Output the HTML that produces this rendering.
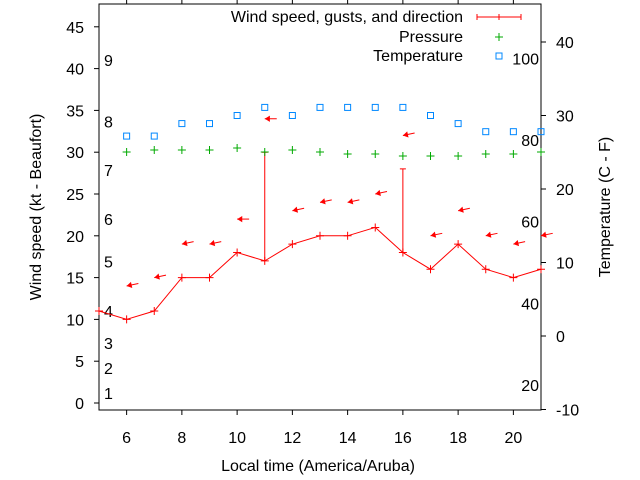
<!DOCTYPE html>
<html><head><meta charset="utf-8"><style>
body{margin:0;background:#fff;}
svg{display:block;font-family:"Liberation Sans",sans-serif;font-size:16px;}
</style></head><body>
<svg id="c" width="640" height="480"></svg>
<script>
const hours=[5,6,7,8,9,10,11,12,13,14,15,16,17,18,19,20,21];
const windSpeed=[11,10,11,15,15,18,17,19,20,20,21,18,16,19,16,15,16];
const gustHours=[11,16];
const gustValues=[30,28];
const dirHours=[6,7,8,9,10,11,12,13,14,15,16,17,18,19,20,21];
const dirLevels=[14,15,19,19,22,34,23,24,24,25,32,20,23,20,19,20];
const dirDegrees=[78,78,78,78,90,90,78,78,78,78,78,78,78,78,78,78];
const presHours=[6,7,8,9,10,11,12,13,14,15,16,17,18,19,20,21];
const pressure=[1013.0,1013.1,1013.1,1013.1,1013.2,1013.0,1013.1,1013.0,1012.9,1012.9,1012.8,1012.8,1012.8,1012.9,1012.9,1013.0];
const tempHours=[6,7,8,9,10,11,12,13,14,15,16,17,18,19,20,21];
const tempC=[27.2,27.2,28.9,28.9,30,31.1,30,31.1,31.1,31.1,31.1,30,28.9,27.8,27.8,27.8];
const xTicks=[6,8,10,12,14,16,18,20];
const yTicks=[0,5,10,15,20,25,30,35,40,45];
const y2Ticks=[-10,0,10,20,30,40];
const beaufortLabels=["1","2","3","4","5","6","7","8","9"];
const beaufortKt=[1.2,4.2,7.2,11,16.9,22,27.9,33.7,41];
const fahrLabels=["20","40","60","80","100"];

const L=99,R=541,T=4,B=410;
const X=h=>L+(h-5)*(R-L)/16;
const Y=v=>403-v*8.36;
const Y2=c=>336-c*7.35;
const YP=p=>152-(p-1013)*20;
const svg=document.getElementById('c');
const NS='http://www.w3.org/2000/svg';
function mk(t,a,txt){const e=document.createElementNS(NS,t);for(const k in a)e.setAttribute(k,a[k]);if(txt!==undefined)e.textContent=txt;svg.appendChild(e);return e;}

let e;
e=mk('rect',{x:L,y:T,width:R-L,height:B-T,fill:'none',stroke:'#000','stroke-width':1});


xTicks.forEach(h=>{
 e=mk('line',{x1:X(h),x2:X(h),y1:B,y2:B+5,stroke:'#000'});
 
 
 e=mk('line',{x1:X(h),x2:X(h),y1:T,y2:T-5,stroke:'#000'});
 
 
 e=mk('text',{x:X(h),y:443,'text-anchor':'middle'},h);
 
 
});
yTicks.forEach(v=>{
 e=mk('line',{x1:L-5,x2:L,y1:Y(v),y2:Y(v),stroke:'#000'});
 
 
 e=mk('text',{x:84,y:Y(v)+6,'text-anchor':'end'},v);
 
 
});
y2Ticks.forEach(v=>{
 e=mk('line',{x1:R,x2:R+5,y1:Y2(v),y2:Y2(v),stroke:'#000'});
 
 
 e=mk('text',{x:556,y:Y2(v)+6,'text-anchor':'start'},v);
 
 
});
beaufortLabels.forEach((b,i)=>{
 e=mk('text',{x:104,y:Y(beaufortKt[i])+6},b);
 
 
});
fahrLabels.forEach(f=>{
 e=mk('text',{x:539,y:Y2((+f-32)*5/9)+6,'text-anchor':'end'},f);
 
 
});
e=mk('text',{x:318,y:471,'text-anchor':'middle'},'Local time (America/Aruba)');


e=mk('text',{x:41,y:207,'text-anchor':'middle',transform:'rotate(-90 41 207)'},'Wind speed (kt - Beaufort)');


e=mk('text',{x:610,y:207,'text-anchor':'middle',transform:'rotate(-90 610 207)'},'Temperature (C - F)');



e=mk('polyline',{points:hours.map((h,i)=>X(h)+','+Y(windSpeed[i])).join(' '),fill:'none',stroke:'#f00','stroke-width':1});


hours.forEach((h,i)=>{
 const x=X(h),y=Y(windSpeed[i]);
 e=mk('path',{d:`M${x-4},${y}H${x+4}M${x},${y-4}V${y+4}`,stroke:'#f00'});
 
 
});
gustHours.forEach((h,i)=>{
 const x=X(h),i0=hours.indexOf(h),y0=Y(windSpeed[i0]),y1=Y(gustValues[i]);
 e=mk('path',{d:`M${x},${y0}V${y1}M${x-3},${y1}H${x+3}`,stroke:'#f00'});
 
 
});
dirHours.forEach((h,i)=>{
 const x=X(h),y=Y(dirLevels[i]);
 const a=(dirDegrees[i]-90)*Math.PI/180;
 const hx=x+6*Math.cos(a+0.55),hy=y+6*Math.sin(a+0.55);
 const gx=x+6*Math.cos(a-0.55),gy=y+6*Math.sin(a-0.55);
 e=mk('g',{});
 
 
 const l=document.createElementNS(NS,'line');
 l.setAttribute('x1',x);l.setAttribute('y1',y);l.setAttribute('x2',x+12*Math.cos(a));l.setAttribute('y2',y+12*Math.sin(a));l.setAttribute('stroke','#f00');
 e.appendChild(l);
 const p=document.createElementNS(NS,'polygon');
 p.setAttribute('points',`${x},${y} ${hx},${hy} ${gx},${gy}`);p.setAttribute('fill','#f00');
 e.appendChild(p);
});
presHours.forEach((h,i)=>{
 const x=X(h),y=YP(pressure[i]);
 e=mk('path',{d:`M${x-4},${y}H${x+4}M${x},${y-4}V${y+4}`,stroke:'#0a0'});
 
 
});
tempHours.forEach((h,i)=>{
 const x=X(h),y=Y2(tempC[i]);
 e=mk('rect',{x:x-3,y:y-3,width:6,height:6,fill:'none',stroke:'#08f'});
 
 
});
e=mk('text',{x:463,y:22,'text-anchor':'end'},'Wind speed, gusts, and direction');


e=mk('path',{d:'M477,17H521M477,14V20M521,14V20M499,14V20',stroke:'#f00'});


e=mk('text',{x:463,y:42,'text-anchor':'end'},'Pressure');


e=mk('path',{d:'M495,37H503M499,33V41',stroke:'#0a0'});


e=mk('text',{x:463,y:61,'text-anchor':'end'},'Temperature');


e=mk('rect',{x:496,y:53,width:6,height:6,fill:'none',stroke:'#08f'});


</script>
</body></html>
